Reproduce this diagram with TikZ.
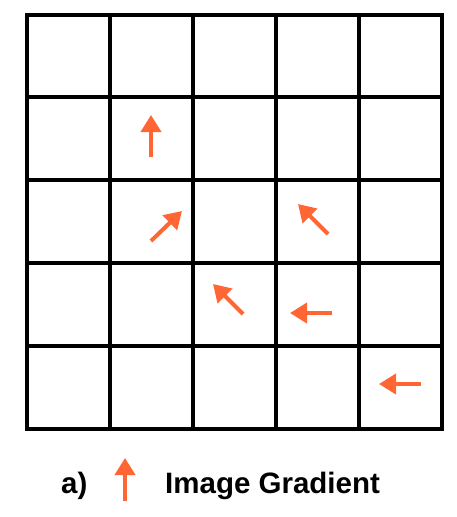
\documentclass[tikz,border=0pt]{standalone}
\usepackage{fontspec}
\setmainfont{Liberation Sans}
\usetikzlibrary{
    arrows.meta
}
\definecolor{gradorange}{RGB}{255,102,51}

\begin{document}
\begin{tikzpicture}[
    x=1pt,
    y=-1pt,
    gridline/.style={
        line width=4pt,
        draw=black
    },
    gradarrow/.style={
        -{Triangle[length=17pt,width=20pt]},
        line width=4pt,
        draw=gradorange
    },
    legendtext/.style={
        anchor=base west,
        inner sep=0pt,
        font=\fontsize{29.5}{35}\selectfont\bfseries
    }
]
\useasboundingbox (0,0) rectangle (457,517);

% pixel grid
\foreach \i in {1,...,4} {
    \draw[gridline] ({27+83*\i},14.5) -- ({27+83*\i},428.5);
    \draw[gridline] (27,{14.5+82.8*\i}) -- (442,{14.5+82.8*\i});
}
\draw[gridline] (27,14.5) rectangle (442,428.5);

% gradient directions
\draw[gradarrow] (151,157) -- (151,115);
\draw[gradarrow] (151,241) -- (182,211);
\draw[gradarrow] (328,234) -- (298,204);
\draw[gradarrow] (243,314) -- (213,284);
\draw[gradarrow] (332,313) -- (290,313);
\draw[gradarrow] (421,384) -- (379,384);

% legend
\node[legendtext] (label) at (61,493) {a)};
\coordinate (keytail) at (125,501);
\coordinate (keytip) at (125,458);
\draw[gradarrow] (keytail) -- (keytip);
\node[legendtext] (legend) at (165,493) {Image Gradient};

\end{tikzpicture}
\end{document}
